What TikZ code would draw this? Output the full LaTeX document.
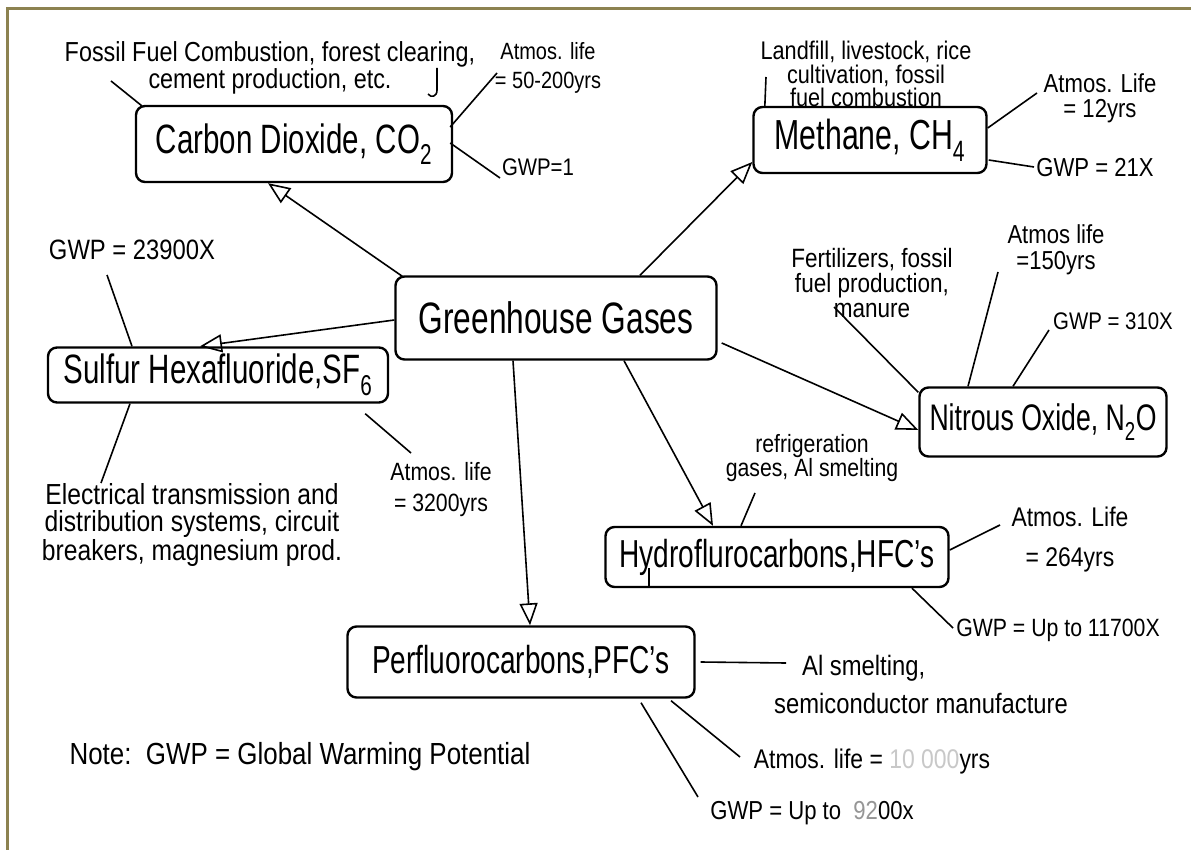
\documentclass[tikz,border=0pt]{standalone}
\usepackage{fontspec}
\setmainfont{Liberation Sans}[FakeStretch=0.72]
\newfontfamily\lblfont{Liberation Sans}[FakeStretch=0.85]
\usetikzlibrary{arrows.meta,calc}
\definecolor{borderolive}{RGB}{140,130,80}
\definecolor{fadegray}{RGB}{200,200,200}
\definecolor{midgray}{RGB}{150,150,150}
\newcommand\myfs[2]{\fontsize{#1}{#2}\selectfont}
\begin{document}
\begin{tikzpicture}[x=1pt,y=-1pt,
  box/.style={draw, line width=2.4pt, rounded corners=9pt, inner sep=0pt, align=center},
  lbl/.style={inner sep=0pt, align=center},
  link/.style={line width=1.6pt},
  arr/.style={line width=1.6pt, -{Triangle[open, length=22pt, width=18pt, line width=1.6pt]}},
  frame/.style={draw=borderolive, line width=3pt}
  ]
\useasboundingbox (0,0) rectangle (1191,850);
\fill[white] (0,0) rectangle (1191,850);
\draw[frame] (6,9) -- (1191,9);
\draw[frame] (7.5,9) -- (7.5,850);

% boxes
\node[box, minimum width=316pt, minimum height=76pt, font=\myfs{41}{41}] (co2) at (294,144) {Carbon Dioxide, CO\textsubscript{2}};
\node[box, minimum width=233pt, minimum height=66pt, font=\myfs{42}{42}] (ch4) at (870,140) {Methane, CH\textsubscript{4}};
\node[box, minimum width=321pt, minimum height=83pt, font=\myfs{44}{44}] (gg) at (556,318) {Greenhouse Gases};
\node[box, minimum width=340pt, minimum height=55pt, font=\myfs{41}{41}] (sf6) at (218,375) {Sulfur Hexafluoride,SF\textsubscript{6}};
\node[box, minimum width=247pt, minimum height=69pt, font=\myfs{37}{37}] (n2o) at (1043,422) {Nitrous Oxide, N\textsubscript{2}O};
\node[box, minimum width=343pt, minimum height=60pt, font=\myfs{39}{39}] (hfc) at (777,557) {Hydroflurocarbons,HFC's};
\node[box, minimum width=347pt, minimum height=71pt, font=\myfs{39}{39}] (pfc) at (521,662) {Perfluorocarbons,PFC's};

% labels
\node[lbl, font=\lblfont\myfs{27.5}{23}] (fossil) at (270,68) {Fossil Fuel Combustion, forest clearing,\\cement production, etc.};
\node[lbl, font=\lblfont\myfs{23.5}{29}] (atm1) at (548,68) {Atmos. life\\= 50-200yrs};
\node[lbl, font=\lblfont\myfs{24}{24}] (gwp1) at (538,167) {GWP=1};
\node[lbl, font=\lblfont\myfs{25.5}{23.5}] (landfill) at (866,74) {Landfill, livestock, rice\\cultivation, fossil\\fuel combustion};
\node[lbl, font=\lblfont\myfs{26}{25}] (atm2) at (1100,98) {Atmos. Life\\= 12yrs};
\node[lbl, font=\lblfont\myfs{26}{26}] (gwp2) at (1095,168) {GWP = 21X};
\node[lbl, font=\lblfont\myfs{28}{28}] (gwp3) at (132,250) {GWP = 23900X};
\node[lbl, font=\lblfont\myfs{29}{27}] (elec) at (192,525) {Electrical transmission and\\distribution systems, circuit\\breakers, magnesium prod.};
\node[lbl, font=\lblfont\myfs{25}{31}] (atm3) at (441,490) {Atmos. life\\= 3200yrs};
\node[lbl, font=\lblfont\myfs{26.5}{25}] (fert) at (872,283) {Fertilizers, fossil\\fuel production,\\manure};
\node[lbl, font=\lblfont\myfs{26}{26}] (atm4) at (1056,250) {Atmos life\\=150yrs};
\node[lbl, font=\lblfont\myfs{24}{24}] (gwp4) at (1113,321) {GWP = 310X};
\node[lbl, font=\lblfont\myfs{25}{24}] (refr) at (812,458) {refrigeration\\gases, Al smelting};
\node[lbl, font=\lblfont\myfs{27}{40}] (atm5) at (1070,540) {Atmos. Life\\= 264yrs};
\node[lbl, font=\lblfont\myfs{25}{25}] (gwp5) at (1058,630) {GWP = Up to 11700X};
\node[lbl, align=left, font=\lblfont\myfs{28}{38}] (alsm) at (921,684) {\hspace*{28pt}Al smelting,\\semiconductor manufacture};
\node[lbl, font=\lblfont\myfs{27}{27}] (atm6) at (872,762) {Atmos. life = {\color{fadegray}10 000}yrs};
\node[lbl, font=\lblfont\myfs{26}{26}] (gwp6) at (812,813) {GWP = Up to \ {\color{midgray}92}00x};
\node[lbl, font=\lblfont\myfs{30.5}{30}] (note) at (300,757) {Note:\ \ GWP = Global Warming Potential};

% arrows from the centre
\draw[arr] ($(gg.north west)+(8,1)$) -- ($(co2.south)+(-26,0)$);
\draw[arr] ($(gg.north)+(84,0)$) -- ($(ch4.west)+(0,22)$);
\draw[arr] ($(gg.west)+(0,2)$) -- ($(sf6.north)+(-18,0)$);
\draw[arr] ($(gg.east)+(4,25)$) -- ($(n2o.west)+(0,8)$);
\draw[arr] ($(gg.south)+(68,0)$) -- ($(hfc.north)+(-64,0)$);
\draw[arr] ($(gg.south)+(-43,0)$) -- ($(pfc.north)+(9,0)$);

% annotation lines
\draw[link] ($(co2.north west)+(7,1)$) -- ($(fossil.center)+(-159,13)$);
\draw[link] ($(co2.east)+(-3,-17)$) -- ($(atm1.center)+(-51,5)$);
\draw[link] ($(co2.east)+(-3,-1)$) -- ($(gwp1.center)+(-38,11)$);
\draw[link] ($(ch4.north west)+(12.5,1)$) -- ($(landfill.center)+(-100,3)$);
\draw[link] ($(ch4.east)+(0,-12)$) -- ($(atm2.center)+(-63,-5)$);
\draw[link] ($(ch4.east)+(1,20)$) -- ($(gwp2.center)+(-61,-1)$);
\draw[link] ($(sf6.north)+(-86,0)$) -- ($(gwp3.center)+(-25,25)$);
\draw[link] ($(sf6.south)+(-88,0)$) -- ($(elec.center)+(-91,-42)$);
\draw[link] ($(sf6.south east)+(-24,10)$) -- ($(atm3.center)+(-30,-37)$);
\draw[link] ($(n2o.north west)+(0,6)$) -- ($(fert.center)+(-38,24)$);
\draw[link] ($(n2o.north)+(-75,0)$) -- ($(atm4.center)+(-58,22)$);
\draw[link] ($(n2o.north)+(-30,0)$) -- ($(gwp4.center)+(-64,9)$);
\draw[link] ($(hfc.north)+(-36,0)$) -- ($(refr.center)+(-57,35)$);
\draw[link] ($(hfc.east)+(0,-7)$) -- ($(atm5.center)+(-70,-15)$);
\draw[link] ($(hfc.south)+(135,0)$) -- ($(gwp5.center)+(-105,-2)$);
\draw[link] ($(pfc.east)+(5,0)$) -- ($(alsm.center)+(-135,-21)$);
\draw[link] ($(pfc.south)+(150,2)$) -- ($(atm6.center)+(-132,-5)$);
\draw[link] ($(pfc.south)+(120,4)$) -- ($(gwp6.center)+(-114,-16)$);

% stray pen marks
\draw[link] (437,68) -- (437,90) .. controls (437,97) and (431,98) .. (428,94);
\draw[link] (649,568) -- (649,587);
\end{tikzpicture}
\end{document}
